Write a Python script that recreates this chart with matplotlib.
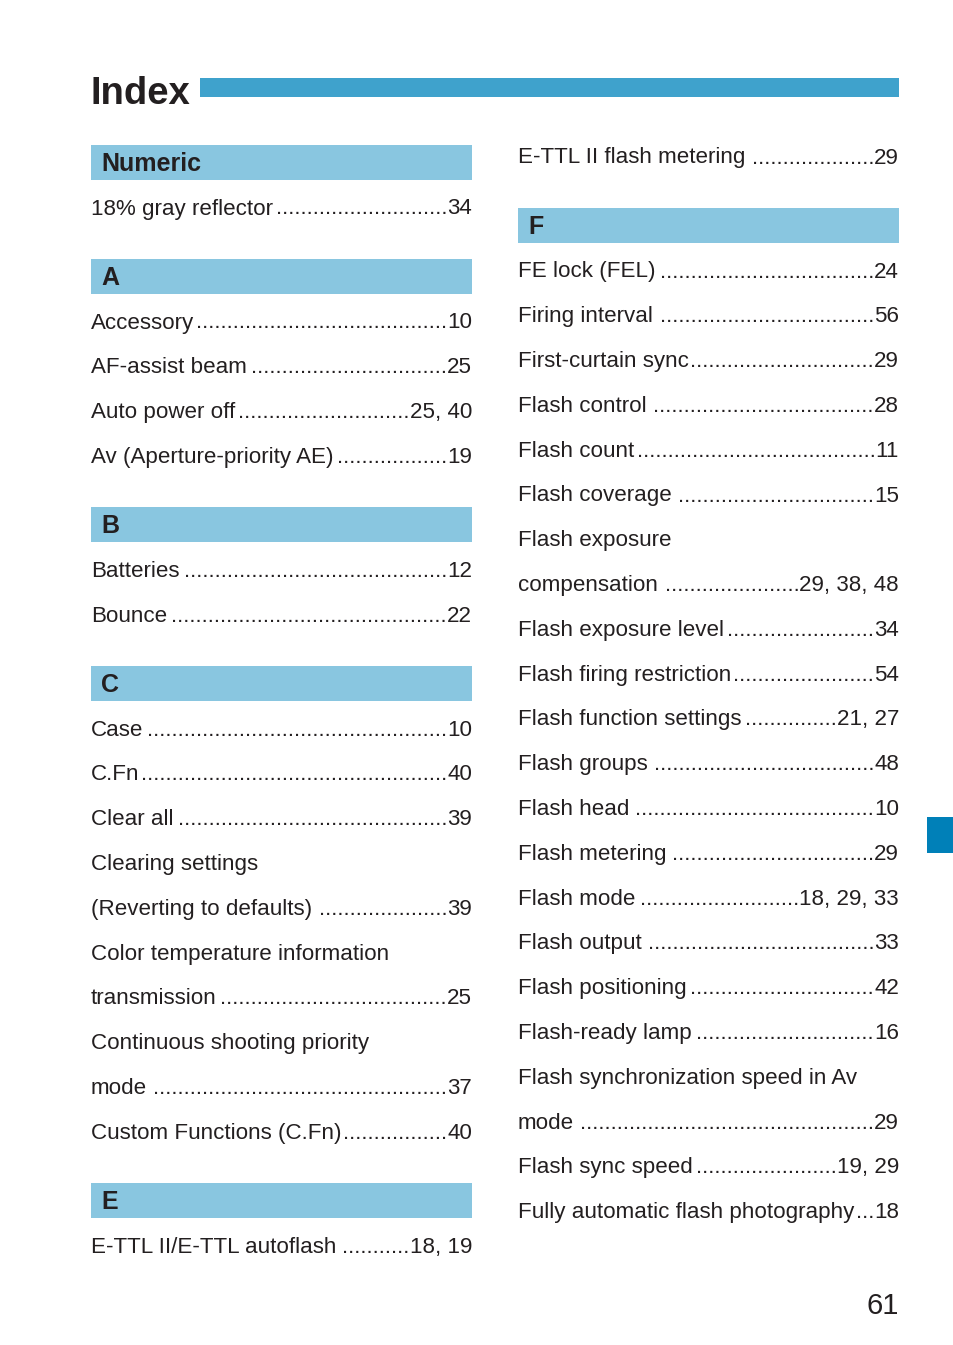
import matplotlib
matplotlib.use("Agg")
import matplotlib.pyplot as plt
from matplotlib.patches import Rectangle

# ---------------- data ----------------
title_text = "Index"
page_number = "61"

left_sections = ["Numeric", "A", "B", "C", "E"]
left_terms = [
    ["18% gray reflector"],
    ["Accessory", "AF-assist beam", "Auto power off", "Av (Aperture-priority AE)"],
    ["Batteries", "Bounce"],
    ["Case", "C.Fn", "Clear all", "Clearing settings", "(Reverting to defaults)",
     "Color temperature information", "transmission", "Continuous shooting priority",
     "mode", "Custom Functions (C.Fn)"],
    ["E-TTL II/E-TTL autoflash"],
]
left_pages = [
    ["34"],
    ["10", "25", "25, 40", "19"],
    ["12", "22"],
    ["10", "40", "39", "", "39", "", "25", "", "37", "40"],
    ["18, 19"],
]

right_lead_terms = ["E-TTL II flash metering"]
right_lead_pages = ["29"]
right_sections = ["F"]
right_terms = [
    ["FE lock (FEL)", "Firing interval", "First-curtain sync", "Flash control",
     "Flash count", "Flash coverage", "Flash exposure", "compensation",
     "Flash exposure level", "Flash firing restriction", "Flash function settings",
     "Flash groups", "Flash head", "Flash metering", "Flash mode", "Flash output",
     "Flash positioning", "Flash-ready lamp", "Flash synchronization speed in Av",
     "mode", "Flash sync speed", "Fully automatic flash photography"],
]
right_pages = [
    ["24", "56", "29", "28", "11", "15", "", "29, 38, 48", "34", "54", "21, 27",
     "48", "10", "29", "18, 29, 33", "33", "42", "16", "", "29", "19, 29", "18"],
]

# ---------------- style ----------------
FONT = "Liberation Sans"
TXT = "#231f20"
TITLE_BAR = "#3fa2cc"
HEAD_BAR = "#89c6e0"
TAB = "#0080b8"
BODY_SIZE = 16.1
HEAD_SIZE = 18
LINE = 44.8

W, H = 954, 1345
fig = plt.figure(figsize=(W / 100, H / 100), dpi=100)
ax = fig.add_axes([0, 0, 1, 1])
ax.set_xlim(0, W)
ax.set_ylim(H, 0)
ax.axis("off")
renderer = fig.canvas.get_renderer()

# title
ax.text(91, 104.5, title_text, fontsize=27.5, fontweight="bold", family=FONT,
        color=TXT, va="baseline", ha="left")
ax.add_patch(Rectangle((200, 78.3), 699, 19, color=TITLE_BAR, lw=0))

# side tab
ax.add_patch(Rectangle((927, 817), 27, 36, color=TAB, lw=0))

# page number
ax.text(899, 1314.3, page_number, fontsize=21, family=FONT, color=TXT,
        va="baseline", ha="right")

# dot width
probe = ax.text(0, 0, "." * 20, fontsize=BODY_SIZE, family=FONT)
dot_w = probe.get_window_extent(renderer).width / 20
probe.remove()


def entry(x0, x1, y, term, page):
    t = ax.text(x0, y, term, fontsize=BODY_SIZE, family=FONT, color=TXT,
                va="baseline", ha="left")
    if not page:
        return
    p = ax.text(x1, y, page, fontsize=BODY_SIZE, family=FONT, color=TXT,
                va="baseline", ha="right")
    tr = t.get_window_extent(renderer).x1
    pl = p.get_window_extent(renderer).x0
    n = int((pl - tr - 1) // dot_w)
    if n > 0:
        ax.text(pl, y, "." * n, fontsize=BODY_SIZE, family=FONT, color=TXT,
                va="baseline", ha="right")


def header(x0, x1, top, label):
    ax.add_patch(Rectangle((x0, top), x1 - x0, 34.5, color=HEAD_BAR, lw=0))
    ax.text(x0 + 10, top + 26, label, fontsize=HEAD_SIZE, fontweight="bold",
            family=FONT, color=TXT, va="baseline", ha="left")


def column(x0, x1, sections, terms, pages, start_top=None,
           lead_terms=(), lead_pages=(), lead_baseline=None):
    last = None
    if lead_terms:
        y = lead_baseline
        for tm, pg in zip(lead_terms, lead_pages):
            entry(x0, x1, y, tm, pg)
            last = y
            y += LINE
    for i, (sec, tms, pgs) in enumerate(zip(sections, terms, pages)):
        top = start_top if last is None else last + 44.5
        header(x0, x1, top, sec)
        y = top + 69.5
        for tm, pg in zip(tms, pgs):
            entry(x0, x1, y, tm, pg)
            last = y
            y += LINE


column(91, 472, left_sections, left_terms, left_pages, start_top=145)
column(518, 899, right_sections, right_terms, right_pages,
       lead_terms=right_lead_terms, lead_pages=right_lead_pages,
       lead_baseline=163.5)

fig.savefig("out.png", dpi=100, facecolor="white")
